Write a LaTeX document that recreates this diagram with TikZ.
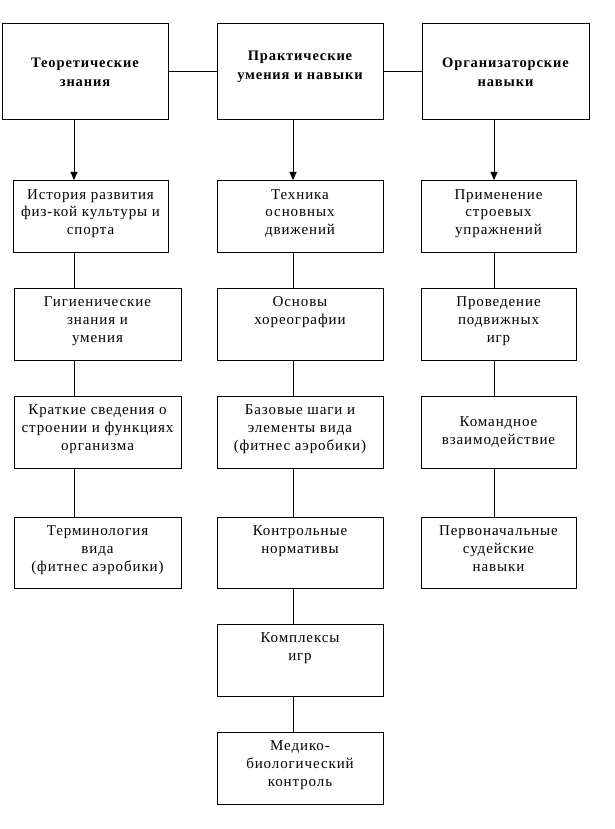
\documentclass[tikz,border=0pt]{standalone}
\usepackage{fontspec}
\setmainfont{Liberation Serif}[LetterSpace=6]
\usetikzlibrary{arrows.meta}
\begin{document}
\begin{tikzpicture}[x=1pt,y=-1pt,
 box/.style={draw, line width=1pt, inner sep=0pt, minimum width=166pt, minimum height=72pt},
 nbox/.style={box, minimum width=155pt},
 tbox/.style={box, minimum height=96pt},
 txt/.style={align=center, inner sep=0pt, anchor=north, font=\fontsize{15}{17.8}\selectfont},
 head/.style={align=center, inner sep=0pt, font=\fontsize{14.5}{19}\selectfont\bfseries},
 link/.style={line width=1pt},
 arr/.style={line width=1pt, -{Triangle[length=8pt,width=7pt]}}]
\useasboundingbox[fill=white] (0,0) rectangle (614,829);
% column line positions
\coordinate (k1) at (74,0);
\coordinate (k2) at (293,0);
\coordinate (k3) at (494,0);
% top row
\node[tbox] (t1) at (85,72) {};
\node[tbox] (t2) at (300,72) {};
\node[tbox, minimum width=167pt] (t3) at (505.5,72) {};
\node[head] (ht1) at (t1.center) {Теоретические\\знания};
\node[head] (ht2) at ([yshift=5pt]t2.center) {Практические\\умения и навыки};
\node[head] (ht3) at (t3.center) {Организаторские\\навыки};
% column 1
\node[nbox] (a1) at (90.5,216.5) {};
\node[box, minimum width=167pt] (a2) at (97.5,324) {};
\node[box, minimum width=167pt] (a3) at (97.5,432) {};
\node[box, minimum width=167pt, minimum height=71pt] (a4) at (97.5,552.5) {};
% column 2
\node[box] (b1) at (300,216.5) {};
\node[box] (b2) at (300,324) {};
\node[box] (b3) at (300,432) {};
\node[box, minimum height=71pt] (b4) at (300,552.5) {};
\node[box] (b5) at (300,660) {};
\node[box] (b6) at (300,768) {};
% column 3
\node[nbox] (c1) at (498.5,216.5) {};
\node[nbox] (c2) at (498.5,324) {};
\node[nbox] (c3) at (498.5,432) {};
\node[nbox, minimum height=71pt] (c4) at (498.5,552.5) {};
% texts
\node[txt] (ta1) at ([yshift=-9pt]a1.north) {История развития\\физ-кой культуры и\\спорта};
\node[txt] (ta2) at ([yshift=-9pt]a2.north) {Гигиенические\\знания и\\умения};
\node[txt] (ta3) at ([yshift=-9pt]a3.north) {Краткие сведения о\\строении и функциях\\организма};
\node[txt] (ta4) at ([yshift=-9pt]a4.north) {Терминология\\вида\\(фитнес аэробики)};
\node[txt] (tb1) at ([yshift=-9pt]b1.north) {Техника\\основных\\движений};
\node[txt] (tb2) at ([yshift=-9pt]b2.north) {Основы\\хореографии};
\node[txt] (tb3) at ([yshift=-9pt]b3.north) {Базовые шаги и\\элементы вида\\(фитнес аэробики)};
\node[txt] (tb4) at ([yshift=-9pt]b4.north) {Контрольные\\нормативы};
\node[txt] (tb5) at ([yshift=-9pt]b5.north) {Комплексы\\игр};
\node[txt] (tb6) at ([yshift=-9pt]b6.north) {Медико-\\биологический\\контроль};
\node[txt] (tc1) at ([yshift=-9pt]c1.north) {Применение\\строевых\\упражнений};
\node[txt] (tc2) at ([yshift=-9pt]c2.north) {Проведение\\подвижных\\игр};
\node[txt] (tc3) at ([yshift=-21pt]c3.north) {Командное\\взаимодействие};
\node[txt] (tc4) at ([yshift=-9pt]c4.north) {Первоначальные\\судейские\\навыки};
% connectors
\draw[link] (t1.east) -- (t2.west);
\draw[link] (t2.east) -- (t3.west);
\draw[arr] (t1.south -| k1) -- (a1.north -| k1);
\draw[arr] (t2.south -| k2) -- (b1.north -| k2);
\draw[arr] (t3.south -| k3) -- (c1.north -| k3);
\draw[link] (a1.south -| k1) -- (a2.north -| k1);
\draw[link] (a2.south -| k1) -- (a3.north -| k1);
\draw[link] (a3.south -| k1) -- (a4.north -| k1);
\draw[link] (b1.south -| k2) -- (b2.north -| k2);
\draw[link] (b2.south -| k2) -- (b3.north -| k2);
\draw[link] (b3.south -| k2) -- (b4.north -| k2);
\draw[link] (b4.south -| k2) -- (b5.north -| k2);
\draw[link] (b5.south -| k2) -- (b6.north -| k2);
\draw[link] (c1.south -| k3) -- (c2.north -| k3);
\draw[link] (c2.south -| k3) -- (c3.north -| k3);
\draw[link] (c3.south -| k3) -- (c4.north -| k3);
\end{tikzpicture}
\end{document}
